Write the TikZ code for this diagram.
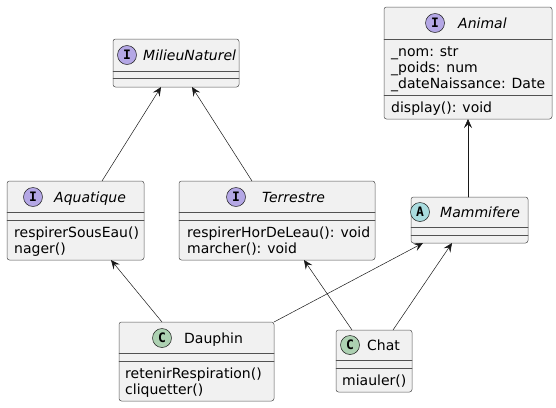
\documentclass[tikz,border=0pt]{standalone}
\usepackage{fontspec}
\setmainfont{DejaVu Sans}
\setmonofont{DejaVu Sans Mono}
\usetikzlibrary{arrows.meta}
\definecolor{umlfill}{HTML}{F1F1F1}
\definecolor{umlline}{HTML}{181818}
\definecolor{iface}{HTML}{B4A7E5}
\definecolor{abstr}{HTML}{A9DCDF}
\definecolor{klass}{HTML}{ADD1B2}
\tikzset{
  clsbox/.style={draw=umlline!75,fill=umlfill,line width=0.5pt,rounded corners=2.5pt,anchor=north west,inner sep=0pt,outer sep=0pt},
  sepline/.style={draw=umlline!75,line width=0.5pt},
  badge/.style={circle,draw=umlline,line width=0.5pt,minimum size=19pt,inner sep=0pt,font=\ttfamily\bfseries\fontsize{13}{13}\selectfont},
  clstitle/.style={anchor=base west,inner sep=0pt},
  mbr/.style={anchor=base west,inner sep=0pt},
  link/.style={draw=umlline,line width=0.5pt,-{Stealth[length=9pt,width=8pt,inset=3.5pt]}}
}

\begin{document}
\begin{tikzpicture}[x=1pt,y=-1pt,line cap=round,line join=round,font=\fontsize{14}{16}\selectfont]
		\useasboundingbox (0,0) rectangle (556,407);
		% MilieuNaturel
		\node[clsbox,minimum width=126pt,minimum height=48pt] (milieu) at (113,39) {};
		\draw[sepline] ([yshift=-32pt]milieu.north west) -- ([yshift=-32pt]milieu.north east);
		\draw[sepline] ([yshift=-39pt]milieu.north west) -- ([yshift=-39pt]milieu.north east);
		\node[badge,fill=iface] (milieu-b) at (127,55) {I};
		\node[clstitle] (milieu-t) at (143,60) {\itshape MilieuNaturel};
		% Animal
		\node[clsbox,minimum width=168pt,minimum height=112pt] (animal) at (384,7) {};
		\draw[sepline] ([yshift=-32pt]animal.north west) -- ([yshift=-32pt]animal.north east);
		\draw[sepline] ([yshift=-88pt]animal.north west) -- ([yshift=-88pt]animal.north east);
		\node[badge,fill=iface] (animal-b) at (435,23) {I};
		\node[clstitle] (animal-t) at (458,28) {\itshape Animal};
		\node[mbr] (animal-m1) at (391,56) {\_nom: str};
		\node[mbr] (animal-m2) at (391,72) {\_poids: num};
		\node[mbr] (animal-m3) at (391,88) {\_dateNaissance: Date};
		\node[mbr] (animal-m4) at (391,112) {display(): void};
		% Aquatique
		\node[clsbox,minimum width=137pt,minimum height=79pt] (aquatique) at (7,181) {};
		\draw[sepline] ([yshift=-31pt]aquatique.north west) -- ([yshift=-31pt]aquatique.north east);
		\draw[sepline] ([yshift=-39pt]aquatique.north west) -- ([yshift=-39pt]aquatique.north east);
		\node[badge,fill=iface] (aquatique-b) at (33,197) {I};
		\node[clstitle] (aquatique-t) at (54,202) {\itshape Aquatique};
		\node[mbr] (aquatique-m1) at (14,237) {respirerSousEau()};
		\node[mbr] (aquatique-m2) at (14,253) {nager()};
		% Terrestre
		\node[clsbox,minimum width=196pt,minimum height=79pt] (terrestre) at (179,181) {};
		\draw[sepline] ([yshift=-31pt]terrestre.north west) -- ([yshift=-31pt]terrestre.north east);
		\draw[sepline] ([yshift=-39pt]terrestre.north west) -- ([yshift=-39pt]terrestre.north east);
		\node[badge,fill=iface] (terrestre-b) at (236,197) {I};
		\node[clstitle] (terrestre-t) at (262,202) {\itshape Terrestre};
		\node[mbr] (terrestre-m1) at (187,237) {respirerHorDeLeau(): void};
		\node[mbr] (terrestre-m2) at (187,253) {marcher(): void};
		% Mammifere
		\node[clsbox,minimum width=117pt,minimum height=46pt] (mammifere) at (411,197) {};
		\draw[sepline] ([yshift=-30pt]mammifere.north west) -- ([yshift=-30pt]mammifere.north east);
		\draw[sepline] ([yshift=-38pt]mammifere.north west) -- ([yshift=-38pt]mammifere.north east);
		\node[badge,fill=abstr] (mammifere-b) at (420,212) {A};
		\node[clstitle] (mammifere-t) at (440,217) {\itshape Mammifere};
		% Dauphin
		\node[clsbox,minimum width=155pt,minimum height=79pt] (dauphin) at (119,322) {};
		\draw[sepline] ([yshift=-31pt]dauphin.north west) -- ([yshift=-31pt]dauphin.north east);
		\draw[sepline] ([yshift=-39pt]dauphin.north west) -- ([yshift=-39pt]dauphin.north east);
		\node[badge,fill=klass] (dauphin-b) at (162,338) {C};
		\node[clstitle] (dauphin-t) at (184,343) {Dauphin};
		\node[mbr] (dauphin-m1) at (125,378) {retenirRespiration()};
		\node[mbr] (dauphin-m2) at (125,394) {cliquetter()};
		% Chat
		\node[clsbox,minimum width=76pt,minimum height=62pt] (chat) at (336,330) {};
		\draw[sepline] ([yshift=-30pt]chat.north west) -- ([yshift=-30pt]chat.north east);
		\draw[sepline] ([yshift=-38pt]chat.north west) -- ([yshift=-38pt]chat.north east);
		\node[badge,fill=klass] (chat-b) at (350,345) {C};
		\node[clstitle] (chat-t) at (367,350) {Chat};
		\node[mbr] (chat-m1) at (342,385) {miauler()};
		% heritage
		\draw[link] ([xshift=95pt]aquatique.north west) -- ([xshift=48pt]milieu.south west);
		\draw[link] ([xshift=73pt]terrestre.north west) -- ([xshift=79pt]milieu.south west);
		\draw[link] ([xshift=57pt]mammifere.north west) -- ([xshift=84pt]animal.south west);
		\draw[link] ([xshift=43pt]dauphin.north west) -- ([xshift=104pt]aquatique.south west);
		\draw[link] (dauphin.north east) -- ([xshift=12pt]mammifere.south west);
		\draw[link] ([xshift=16pt]chat.north west) -- ([xshift=125pt]terrestre.south west);
		\draw[link] ([xshift=57pt]chat.north west) -- ([xshift=41pt]mammifere.south west);
\end{tikzpicture}
\end{document}
